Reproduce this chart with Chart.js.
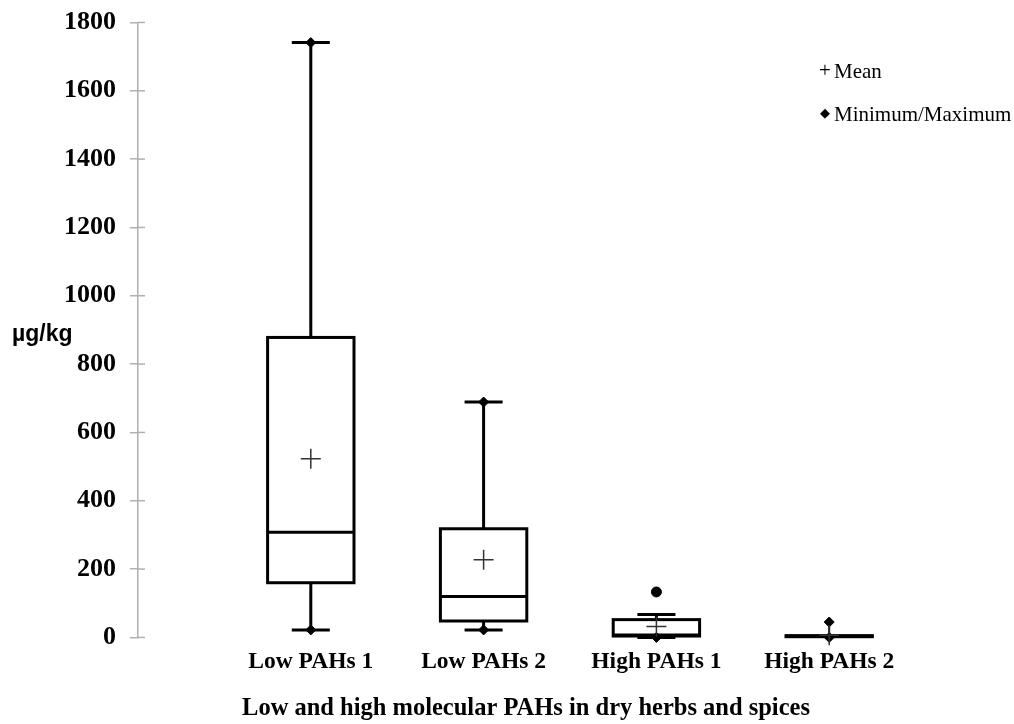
<!DOCTYPE html>
<html>
<head>
<meta charset="utf-8">
<script src="https://cdn.jsdelivr.net/npm/chart.js@4"></script>
<style>
  html, body { margin: 0; padding: 0; background: #fff; }
  #wrap { width: 1014px; height: 724px; }
</style>
</head>
<body>
<div id="wrap"><canvas id="myChart"></canvas></div>
<script>
const categories = ['Low PAHs 1', 'Low PAHs 2', 'High PAHs 1', 'High PAHs 2'];
const q1 = [160, 48, 4, 2];
const median = [308, 120, 7, 4];
const q3 = [878, 318, 52, 5];
const whiskerLow = [22, 22, 0, 0];
const whiskerHigh = [1741, 689, 67, 45];
const hasCap = [true, true, true, false];
const means = [523, 227, 32, 6];
const minimum = [22, 22, 0, 0];
const maximum = [1741, 689, null, 45];
const outliers = [null, null, 133, null];
const yTicks = [0, 200, 400, 600, 800, 1000, 1200, 1400, 1600, 1800];

// x positions 1..4 on a 0..5 linear axis
const pts = arr => arr.map((v, i) => v === null ? null : { x: i + 1, y: v }).filter(p => p);

const serif = 'Liberation Serif, Times New Roman, serif';

// box, whiskers, medians + legend + unit text
const boxPlugin = {
  id: 'boxes',
  beforeDatasetsDraw(chart) {
    const { ctx, scales: { x, y } } = chart;
    ctx.save();
    ctx.strokeStyle = '#000';
    ctx.lineWidth = 3;
    ctx.lineCap = 'butt';
    categories.forEach((c, i) => {
      const cx = x.getPixelForValue(i + 1);
      const left = x.getPixelForValue(i + 0.75);
      const right = x.getPixelForValue(i + 1.25);
      const capL = x.getPixelForValue(i + 0.89);
      const capR = x.getPixelForValue(i + 1.11);
      const yq1 = y.getPixelForValue(q1[i]);
      const yq3 = y.getPixelForValue(q3[i]);
      // whiskers
      ctx.lineWidth = hasCap[i] ? 3 : 2;
      ctx.beginPath();
      ctx.moveTo(cx, yq3); ctx.lineTo(cx, y.getPixelForValue(whiskerHigh[i]));
      ctx.moveTo(cx, yq1); ctx.lineTo(cx, y.getPixelForValue(whiskerLow[i]));
      ctx.stroke();
      ctx.lineWidth = 3;
      if (hasCap[i]) {
        ctx.beginPath();
        const yh = y.getPixelForValue(whiskerHigh[i]);
        const yl = y.getPixelForValue(whiskerLow[i]);
        ctx.moveTo(capL, yh); ctx.lineTo(capR, yh);
        ctx.moveTo(capL, yl); ctx.lineTo(capR, yl);
        ctx.stroke();
      }
      // box
      ctx.fillStyle = '#fff';
      ctx.fillRect(left, yq3, right - left, yq1 - yq3);
      ctx.strokeRect(left, yq3, right - left, yq1 - yq3);
      // median
      const ym = y.getPixelForValue(median[i]);
      ctx.beginPath();
      ctx.moveTo(left, ym); ctx.lineTo(right, ym);
      ctx.stroke();
    });
    ctx.restore();
  },
  afterDraw(chart) {
    const { ctx, scales: { y }, chartArea } = chart;
    ctx.save();
    // inner half of the y tick marks
    ctx.strokeStyle = '#b0b0b0';
    ctx.lineWidth = 1.5;
    yTicks.forEach(v => {
      const py = y.getPixelForValue(v);
      ctx.beginPath();
      ctx.moveTo(chartArea.left, py); ctx.lineTo(chartArea.left + 7, py);
      ctx.stroke();
    });
    // unit label
    ctx.fillStyle = '#000';
    ctx.font = 'bold 23px Liberation Sans, Arial, sans-serif';
    ctx.textBaseline = 'middle';
    ctx.textAlign = 'left';
    ctx.fillText('µg/kg', 12, 335);
    // legend
    ctx.font = '21px ' + serif;
    ctx.fillText('+', 819, 71);
    ctx.fillText('Mean', 834, 72);
    ctx.font = '13px ' + serif;
    ctx.fillText('◆', 820, 114);
    ctx.font = '21px ' + serif;
    ctx.fillText('Minimum/Maximum', 834, 115);
    ctx.restore();
  }
};

const config = {
  type: 'scatter',
  data: {
    datasets: [
      {
        label: 'Mean',
        data: pts(means),
        pointStyle: 'cross',
        pointRadius: 10,
        pointBorderWidth: 1.5,
        borderColor: '#333',
        backgroundColor: '#333',
        clip: false
      },
      {
        label: 'Minimum/Maximum',
        data: pts(minimum).concat(pts(maximum)),
        pointStyle: 'rectRot',
        pointRadius: 5,
        borderColor: '#000',
        backgroundColor: '#000',
        clip: false
      },
      {
        label: 'Outlier',
        data: pts(outliers),
        pointStyle: 'circle',
        pointRadius: 5,
        borderColor: '#000',
        backgroundColor: '#000',
        clip: false
      }
    ]
  },
  options: {
    responsive: true,
    maintainAspectRatio: false,
    animation: false,
    layout: { padding: { left: 50, right: 12, top: 0, bottom: 1 } },
    plugins: {
      legend: { display: false },
      tooltip: { enabled: false },
      title: {
        display: true,
        position: 'bottom',
        text: 'Low and high molecular PAHs in dry herbs and spices',
        color: '#000',
        font: { family: serif, size: 24.5, weight: 'bold' },
        padding: { top: 16, bottom: 0 }
      }
    },
    scales: {
      x: {
        type: 'linear',
        min: 0,
        max: 5,
        afterBuildTicks: s => { s.ticks = [1, 2, 3, 4].map(v => ({ value: v })); },
        ticks: {
          callback: v => categories[v - 1],
          color: '#000',
          font: { family: serif, size: 23.5, weight: 'bold' },
          padding: 2,
          autoSkip: false,
          maxRotation: 0
        },
        grid: { display: false },
        border: { display: false }
      },
      y: {
        min: 0,
        max: 1800,
        afterBuildTicks: s => { s.ticks = yTicks.map(v => ({ value: v })); },
        ticks: {
          callback: v => String(v),
          color: '#000',
          font: { family: serif, size: 26, weight: 'bold', lineHeight: 0.65 },
          padding: 14
        },
        grid: { drawOnChartArea: false, tickLength: 8, color: '#b0b0b0', lineWidth: 1.5 },
        border: { color: '#b0b0b0', width: 1.5 }
      }
    }
  },
  plugins: [boxPlugin]
};

const myChart = new Chart(document.getElementById('myChart'), config);
</script>
</body>
</html>
